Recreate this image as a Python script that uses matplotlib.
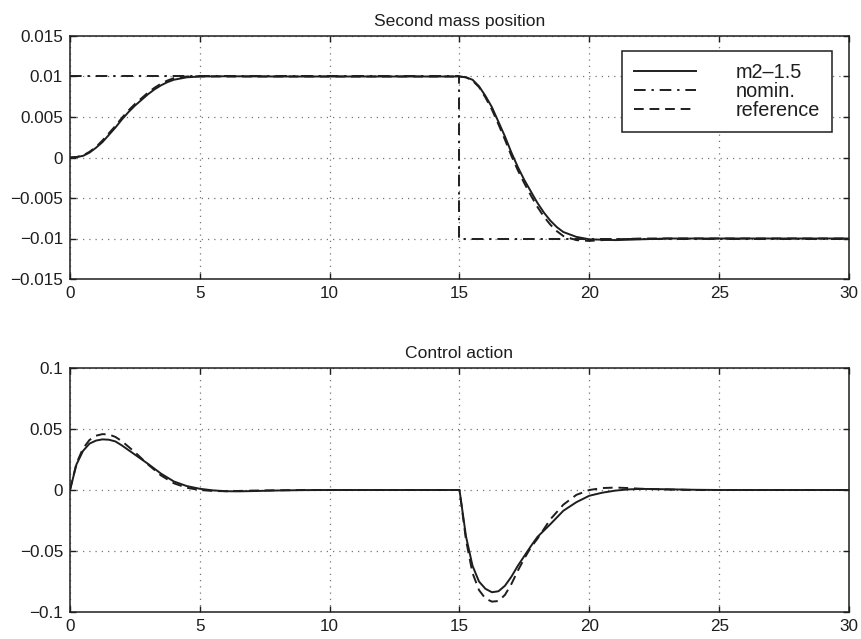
import matplotlib
matplotlib.use("Agg")
import matplotlib.pyplot as plt

plt.rcParams['font.family'] = ['Liberation Sans', 'DejaVu Sans']

# ---------------- data: Second mass position ----------------
t_pos = [0, 0.25, 0.5, 0.75, 1.0, 1.25, 1.5, 1.75, 2.0, 2.25, 2.5, 2.75, 3.0,
         3.25, 3.5, 3.75, 4.0, 4.5, 5.0, 6.0, 8.0, 15.0, 15.25, 15.5, 15.75,
         16.0, 16.25, 16.5, 16.75, 17.0, 17.25, 17.5, 17.75, 18.0, 18.25,
         18.5, 18.75, 19.0, 19.5, 20.0, 21.0, 22.0, 23.0, 30.0]
pos_m2 = [0.0, 0.00005, 0.0002, 0.0006, 0.0012, 0.0019, 0.0028, 0.0037,
          0.0047, 0.0056, 0.0064, 0.0071, 0.0078, 0.0084, 0.0089, 0.0093,
          0.0096, 0.0099, 0.0100, 0.01003, 0.0100, 0.0100, 0.0099, 0.0096,
          0.0088, 0.0076, 0.0062, 0.0044, 0.0026, 0.0006, -0.0012, -0.0028,
          -0.0042, -0.0056, -0.0068, -0.0078, -0.0086, -0.0092, -0.0098,
          -0.0101, -0.0102, -0.0101, -0.0100, -0.0100]
pos_nom = [0.0, 0.00006, 0.00025, 0.0007, 0.0013, 0.0021, 0.0030, 0.0039,
           0.0049, 0.0058, 0.0066, 0.0073, 0.0080, 0.0086, 0.0091, 0.0095,
           0.0098, 0.0100, 0.01002, 0.0100, 0.0100, 0.0100, 0.0099, 0.0095,
           0.0087, 0.0074, 0.0059, 0.0041, 0.0022, 0.0002, -0.0016, -0.0032,
           -0.0047, -0.0061, -0.0073, -0.0083, -0.0091, -0.0097, -0.0102,
           -0.0103, -0.0101, -0.0100, -0.0100, -0.0100]
t_ref = [0, 15, 15, 30]
pos_ref = [0.01, 0.01, -0.01, -0.01]

# ---------------- data: Control action ----------------
t_u = [0, 0.25, 0.5, 0.75, 1.0, 1.25, 1.5, 1.75, 2.0, 2.5, 3.0, 3.5, 4.0,
       4.5, 5.0, 5.5, 6.0, 6.5, 7.0, 8.0, 9.0, 10.0, 15.0, 15.25, 15.5,
       15.75, 16.0, 16.25, 16.5, 16.75, 17.0, 17.25, 17.5, 17.75, 18.0,
       18.5, 19.0, 19.5, 20.0, 20.5, 21.0, 21.5, 22.0, 23.0, 24.0, 25.0, 30.0]
u_m2 = [0.0, 0.021, 0.032, 0.038, 0.0405, 0.0415, 0.0412, 0.0398, 0.0365,
        0.029, 0.0215, 0.0135, 0.0070, 0.0032, 0.0010, -0.0003, -0.0010,
        -0.0011, -0.0009, -0.0004, -0.0001, 0.0, 0.0, -0.038, -0.062,
        -0.075, -0.081, -0.0838, -0.083, -0.0785, -0.071, -0.062, -0.054,
        -0.046, -0.0385, -0.028, -0.017, -0.010, -0.0047, -0.0022, -0.0005,
        0.0005, 0.0009, 0.0006, 0.0002, 0.0, 0.0]
u_nom = [0.0, 0.022, 0.034, 0.041, 0.0445, 0.0458, 0.0455, 0.0435, 0.040,
         0.031, 0.021, 0.012, 0.0055, 0.0018, 0.0, -0.0008, -0.0010,
         -0.0008, -0.0005, -0.0002, 0.0, 0.0, 0.0, -0.041, -0.068, -0.082,
         -0.089, -0.0915, -0.091, -0.086, -0.077, -0.066, -0.056, -0.047,
         -0.040, -0.024, -0.012, -0.004, 0.0, 0.0016, 0.0020, 0.0016, 0.0010,
         0.0004, 0.0, 0.0, 0.0]

x_ticks = [0, 5, 10, 15, 20, 25, 30]
x_labels = ['0', '5', '10', '15', '20', '25', '30']
y1_ticks = [-0.015, -0.01, -0.005, 0, 0.005, 0.01, 0.015]
y1_labels = ['\u22120.015', '\u22120.01', '\u22120.005', '0', '0.005', '0.01', '0.015']
y2_ticks = [-0.1, -0.05, 0, 0.05, 0.1]
y2_labels = ['\u22120.1', '\u22120.05', '0', '0.05', '0.1']

ink = '#1e1e1e'
W, H = 862, 639
fig = plt.figure(figsize=(W / 100, H / 100), dpi=100)
ax1 = fig.add_axes([70 / W, 1 - 279 / H, 779 / W, 243 / H])
ax2 = fig.add_axes([70 / W, 1 - 612 / H, 779 / W, 244 / H])

lw = 1.4
h_m2, = ax1.plot(t_pos, pos_m2, color=ink, lw=lw, ls='-')
h_ref, = ax1.plot(t_ref, pos_ref, color=ink, lw=lw, ls=(0, (6, 3, 1.2, 3)))
h_nom, = ax1.plot(t_pos, pos_nom, color=ink, lw=lw, ls=(0, (5, 3)))

ax2.plot(t_u, u_m2, color=ink, lw=lw, ls='-')
ax2.plot(t_u, u_nom, color=ink, lw=lw, ls=(0, (5, 3)))

for ax, yt, yl, title in [(ax1, y1_ticks, y1_labels, 'Second mass position'),
                          (ax2, y2_ticks, y2_labels, 'Control action')]:
    ax.set_xlim(0, 30)
    ax.set_ylim(yt[0], yt[-1])
    ax.set_xticks(x_ticks)
    ax.set_xticklabels(x_labels)
    ax.set_yticks(yt)
    ax.set_yticklabels(yl)
    ax.tick_params(direction='in', length=4, width=1, top=True, right=True,
                   labelsize=12.3, colors=ink, pad=5)
    ax.grid(True, ls=(0, (1, 4)), color='#777777', lw=0.9)
    for s in ax.spines.values():
        s.set_linewidth(1.1)
        s.set_color(ink)
    ax.set_title(title, fontsize=12.6, color=ink, pad=7)

leg = ax1.legend([h_m2, h_ref, h_nom], ['m2\u20131.5', 'nomin.', 'reference'],
                 loc='upper right', bbox_to_anchor=((832 - 70) / 779, (279 - 51) / 243),
                 borderaxespad=0, fontsize=14.3, frameon=True, fancybox=False,
                 edgecolor=ink, framealpha=1, handlelength=3.1, handletextpad=2.0,
                 labelspacing=0.0, borderpad=0.6)
leg.get_frame().set_linewidth(1.1)
for txt in leg.get_texts():
    txt.set_color(ink)

fig.savefig('out.png', dpi=100)
